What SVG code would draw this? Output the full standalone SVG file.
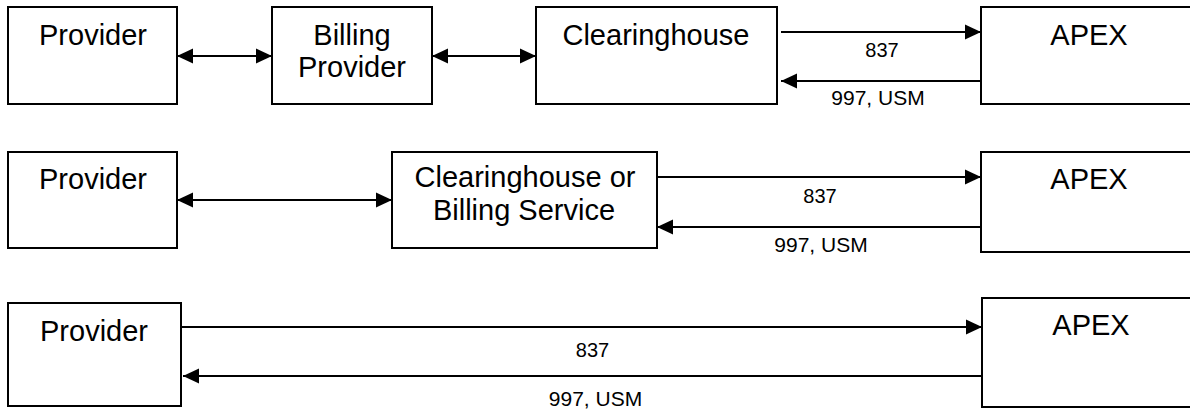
<svg xmlns="http://www.w3.org/2000/svg" width="1190" height="409" viewBox="0 0 1190 409">
<style>
.box{fill:#fff;stroke:#000;stroke-width:2}
.lbl{font-family:"Liberation Sans",Arial,sans-serif;font-size:29px;fill:#000;text-anchor:middle}
.elbl{font-family:"Liberation Sans",Arial,sans-serif;font-size:20px;fill:#000;text-anchor:middle}
.wide{font-size:21px}
.conn line{stroke:#000;stroke-width:2;fill:none}
</style>
<defs>
<marker id="ah" markerUnits="userSpaceOnUse" markerWidth="16" markerHeight="16" viewBox="0 0 15 14" refX="15" refY="7" orient="auto-start-reverse">
<path d="M0,0 L15,7 L0,14 Z" fill="#000"/>
</marker>
</defs>
<rect width="1190" height="409" fill="#fff"/>
<g id="r1-provider"><rect class="box" x="8" y="7" width="169" height="97"/><text class="lbl" x="93" y="45">Provider</text></g>
<g id="r1-billing"><rect class="box" x="272" y="7" width="160" height="97"/><text class="lbl" x="352" y="45">Billing</text><text class="lbl" x="352" y="77">Provider</text></g>
<g id="r1-clearinghouse"><rect class="box" x="536" y="7" width="241" height="97"/><text class="lbl" x="656" y="45">Clearinghouse</text></g>
<g id="r1-apex"><rect class="box" x="981" y="7" width="220" height="97"/><text class="lbl" x="1089" y="45">APEX</text></g>
<g id="r2-provider"><rect class="box" x="8" y="152" width="169" height="96"/><text class="lbl" x="93" y="189">Provider</text></g>
<g id="r2-clearinghouse"><rect class="box" x="392" y="152" width="265" height="96"/><text class="lbl" x="525" y="187">Clearinghouse or</text><text class="lbl" x="524" y="220">Billing Service</text></g>
<g id="r2-apex"><rect class="box" x="981" y="152" width="220" height="100"/><text class="lbl" x="1089" y="189">APEX</text></g>
<g id="r3-provider"><rect class="box" x="8" y="303" width="173" height="103"/><text class="lbl" x="94" y="341">Provider</text></g>
<g id="r3-apex"><rect class="box" x="982" y="298" width="220" height="109"/><text class="lbl" x="1091" y="335">APEX</text></g>
<g id="connectors" class="conn">
<line x1="177" y1="56" x2="272" y2="56" marker-start="url(#ah)" marker-end="url(#ah)"/>
<line x1="432" y1="56" x2="536" y2="56" marker-start="url(#ah)" marker-end="url(#ah)"/>
<line x1="781" y1="32" x2="981" y2="32" marker-end="url(#ah)"/>
<line x1="981" y1="81" x2="781" y2="81" marker-end="url(#ah)"/>
<line x1="177" y1="200" x2="392" y2="200" marker-start="url(#ah)" marker-end="url(#ah)"/>
<line x1="657" y1="177" x2="981" y2="177" marker-end="url(#ah)"/>
<line x1="981" y1="227" x2="657" y2="227" marker-end="url(#ah)"/>
<line x1="181" y1="327" x2="982" y2="327" marker-end="url(#ah)"/>
<line x1="982" y1="376" x2="183" y2="376" marker-end="url(#ah)"/>
<text class="elbl" x="882" y="57">837</text>
<text class="elbl wide" x="878" y="105">997, USM</text>
<text class="elbl" x="820" y="203">837</text>
<text class="elbl wide" x="821" y="252">997, USM</text>
<text class="elbl" x="592.5" y="357">837</text>
<text class="elbl wide" x="595.5" y="406">997, USM</text>
</g>
</svg>
